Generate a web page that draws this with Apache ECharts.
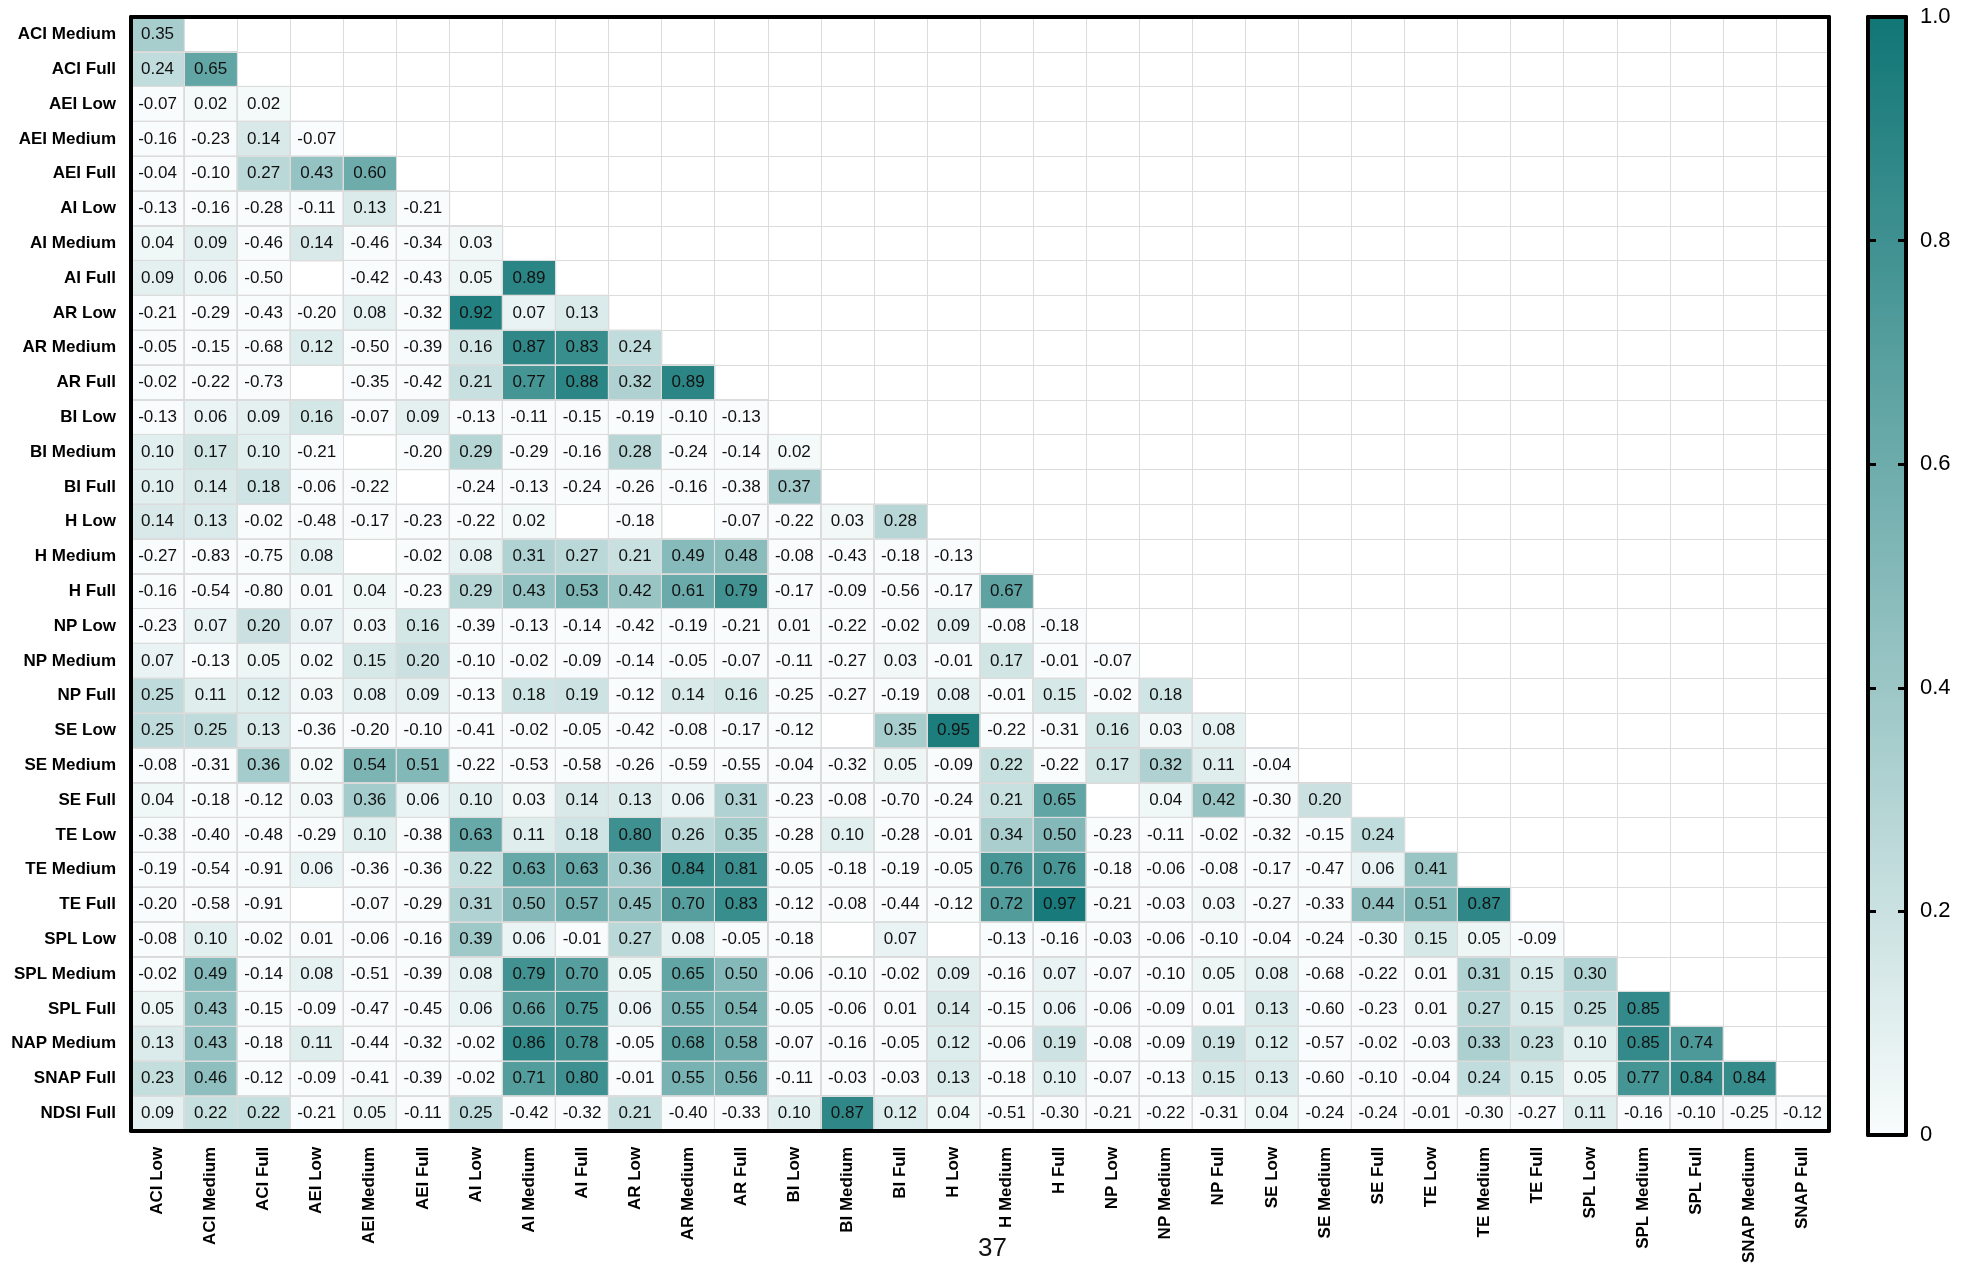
<!DOCTYPE html>
<html><head><meta charset="utf-8">
<script src="https://cdn.jsdelivr.net/npm/echarts@6/dist/echarts.min.js"></script>
<style>html,body{margin:0;padding:0;background:#fff}#c{width:1982px;height:1266px}</style>
</head><body><div id="c"></div>
<script>
const columns = ['ACI Low','ACI Medium','ACI Full','AEI Low','AEI Medium','AEI Full','AI Low','AI Medium','AI Full','AR Low','AR Medium','AR Full','BI Low','BI Medium','BI Full','H Low','H Medium','H Full','NP Low','NP Medium','NP Full','SE Low','SE Medium','SE Full','TE Low','TE Medium','TE Full','SPL Low','SPL Medium','SPL Full','SNAP Medium','SNAP Full'];
const rows = ['ACI Medium','ACI Full','AEI Low','AEI Medium','AEI Full','AI Low','AI Medium','AI Full','AR Low','AR Medium','AR Full','BI Low','BI Medium','BI Full','H Low','H Medium','H Full','NP Low','NP Medium','NP Full','SE Low','SE Medium','SE Full','TE Low','TE Medium','TE Full','SPL Low','SPL Medium','SPL Full','NAP Medium','SNAP Full','NDSI Full'];

const vACIMedium = [0.35];
const vACIFull = [0.24, 0.65];
const vAEILow = [-0.07, 0.02, 0.02];
const vAEIMedium = [-0.16, -0.23, 0.14, -0.07];
const vAEIFull = [-0.04, -0.10, 0.27, 0.43, 0.60];
const vAILow = [-0.13, -0.16, -0.28, -0.11, 0.13, -0.21];
const vAIMedium = [0.04, 0.09, -0.46, 0.14, -0.46, -0.34, 0.03];
const vAIFull = [0.09, 0.06, -0.50, null, -0.42, -0.43, 0.05, 0.89];
const vARLow = [-0.21, -0.29, -0.43, -0.20, 0.08, -0.32, 0.92, 0.07, 0.13];
const vARMedium = [-0.05, -0.15, -0.68, 0.12, -0.50, -0.39, 0.16, 0.87, 0.83, 0.24];
const vARFull = [-0.02, -0.22, -0.73, null, -0.35, -0.42, 0.21, 0.77, 0.88, 0.32, 0.89];
const vBILow = [-0.13, 0.06, 0.09, 0.16, -0.07, 0.09, -0.13, -0.11, -0.15, -0.19, -0.10, -0.13];
const vBIMedium = [0.10, 0.17, 0.10, -0.21, null, -0.20, 0.29, -0.29, -0.16, 0.28, -0.24, -0.14, 0.02];
const vBIFull = [0.10, 0.14, 0.18, -0.06, -0.22, null, -0.24, -0.13, -0.24, -0.26, -0.16, -0.38, 0.37, null];
const vHLow = [0.14, 0.13, -0.02, -0.48, -0.17, -0.23, -0.22, 0.02, null, -0.18, null, -0.07, -0.22, 0.03, 0.28];
const vHMedium = [-0.27, -0.83, -0.75, 0.08, null, -0.02, 0.08, 0.31, 0.27, 0.21, 0.49, 0.48, -0.08, -0.43, -0.18, -0.13];
const vHFull = [-0.16, -0.54, -0.80, 0.01, 0.04, -0.23, 0.29, 0.43, 0.53, 0.42, 0.61, 0.79, -0.17, -0.09, -0.56, -0.17, 0.67];
const vNPLow = [-0.23, 0.07, 0.20, 0.07, 0.03, 0.16, -0.39, -0.13, -0.14, -0.42, -0.19, -0.21, 0.01, -0.22, -0.02, 0.09, -0.08, -0.18];
const vNPMedium = [0.07, -0.13, 0.05, 0.02, 0.15, 0.20, -0.10, -0.02, -0.09, -0.14, -0.05, -0.07, -0.11, -0.27, 0.03, -0.01, 0.17, -0.01, -0.07];
const vNPFull = [0.25, 0.11, 0.12, 0.03, 0.08, 0.09, -0.13, 0.18, 0.19, -0.12, 0.14, 0.16, -0.25, -0.27, -0.19, 0.08, -0.01, 0.15, -0.02, 0.18];
const vSELow = [0.25, 0.25, 0.13, -0.36, -0.20, -0.10, -0.41, -0.02, -0.05, -0.42, -0.08, -0.17, -0.12, null, 0.35, 0.95, -0.22, -0.31, 0.16, 0.03, 0.08];
const vSEMedium = [-0.08, -0.31, 0.36, 0.02, 0.54, 0.51, -0.22, -0.53, -0.58, -0.26, -0.59, -0.55, -0.04, -0.32, 0.05, -0.09, 0.22, -0.22, 0.17, 0.32, 0.11, -0.04];
const vSEFull = [0.04, -0.18, -0.12, 0.03, 0.36, 0.06, 0.10, 0.03, 0.14, 0.13, 0.06, 0.31, -0.23, -0.08, -0.70, -0.24, 0.21, 0.65, null, 0.04, 0.42, -0.30, 0.20];
const vTELow = [-0.38, -0.40, -0.48, -0.29, 0.10, -0.38, 0.63, 0.11, 0.18, 0.80, 0.26, 0.35, -0.28, 0.10, -0.28, -0.01, 0.34, 0.50, -0.23, -0.11, -0.02, -0.32, -0.15, 0.24];
const vTEMedium = [-0.19, -0.54, -0.91, 0.06, -0.36, -0.36, 0.22, 0.63, 0.63, 0.36, 0.84, 0.81, -0.05, -0.18, -0.19, -0.05, 0.76, 0.76, -0.18, -0.06, -0.08, -0.17, -0.47, 0.06, 0.41];
const vTEFull = [-0.20, -0.58, -0.91, null, -0.07, -0.29, 0.31, 0.50, 0.57, 0.45, 0.70, 0.83, -0.12, -0.08, -0.44, -0.12, 0.72, 0.97, -0.21, -0.03, 0.03, -0.27, -0.33, 0.44, 0.51, 0.87];
const vSPLLow = [-0.08, 0.10, -0.02, 0.01, -0.06, -0.16, 0.39, 0.06, -0.01, 0.27, 0.08, -0.05, -0.18, null, 0.07, null, -0.13, -0.16, -0.03, -0.06, -0.10, -0.04, -0.24, -0.30, 0.15, 0.05, -0.09];
const vSPLMedium = [-0.02, 0.49, -0.14, 0.08, -0.51, -0.39, 0.08, 0.79, 0.70, 0.05, 0.65, 0.50, -0.06, -0.10, -0.02, 0.09, -0.16, 0.07, -0.07, -0.10, 0.05, 0.08, -0.68, -0.22, 0.01, 0.31, 0.15, 0.30];
const vSPLFull = [0.05, 0.43, -0.15, -0.09, -0.47, -0.45, 0.06, 0.66, 0.75, 0.06, 0.55, 0.54, -0.05, -0.06, 0.01, 0.14, -0.15, 0.06, -0.06, -0.09, 0.01, 0.13, -0.60, -0.23, 0.01, 0.27, 0.15, 0.25, 0.85];
const vNAPMedium = [0.13, 0.43, -0.18, 0.11, -0.44, -0.32, -0.02, 0.86, 0.78, -0.05, 0.68, 0.58, -0.07, -0.16, -0.05, 0.12, -0.06, 0.19, -0.08, -0.09, 0.19, 0.12, -0.57, -0.02, -0.03, 0.33, 0.23, 0.10, 0.85, 0.74];
const vSNAPFull = [0.23, 0.46, -0.12, -0.09, -0.41, -0.39, -0.02, 0.71, 0.80, -0.01, 0.55, 0.56, -0.11, -0.03, -0.03, 0.13, -0.18, 0.10, -0.07, -0.13, 0.15, 0.13, -0.60, -0.10, -0.04, 0.24, 0.15, 0.05, 0.77, 0.84, 0.84];
const vNDSIFull = [0.09, 0.22, 0.22, -0.21, 0.05, -0.11, 0.25, -0.42, -0.32, 0.21, -0.40, -0.33, 0.10, 0.87, 0.12, 0.04, -0.51, -0.30, -0.21, -0.22, -0.31, 0.04, -0.24, -0.24, -0.01, -0.30, -0.27, 0.11, -0.16, -0.10, -0.25, -0.12];

const rowValues = [vACIMedium, vACIFull, vAEILow, vAEIMedium, vAEIFull, vAILow, vAIMedium, vAIFull, vARLow, vARMedium, vARFull, vBILow, vBIMedium, vBIFull, vHLow, vHMedium, vHFull, vNPLow, vNPMedium, vNPFull, vSELow, vSEMedium, vSEFull, vTELow, vTEMedium, vTEFull, vSPLLow, vSPLMedium, vSPLFull, vNAPMedium, vSNAPFull, vNDSIFull];

const pageNote = '37';

const data = [];
rowValues.forEach((vals, r) => {
  vals.forEach((v, c) => {
    if (v !== null) data.push([c, r, Math.max(0, v), v]);
  });
});

const FONT = 'Liberation Sans, Arial, sans-serif';
const G = {left: 131, top: 17, width: 1698, height: 1118};
const CB = {left: 1868, top: 17, width: 38, height: 1118};

const frameAxis = {onZero: false, show: true, lineStyle: {color: '#000', width: 4}};

const chart = echarts.init(document.getElementById('c'));
chart.setOption({
  backgroundColor: '#fff',
  animation: false,
  textStyle: {fontFamily: FONT},
  grid: [
    {left: G.left, top: G.top, width: G.width, height: G.height},
    {left: CB.left, top: CB.top, width: CB.width, height: CB.height}
  ],
  xAxis: [
    {type: 'category', gridIndex: 0, position: 'bottom', data: columns, z: 5,
      axisLine: {lineStyle: {color: '#000', width: 4}},
      axisTick: {alignWithLabel: true, length: 10, lineStyle: {color: '#000', width: 3}},
      axisLabel: {rotate: 90, interval: 0, margin: 16, fontSize: 17, fontWeight: 'bold', color: '#000', fontFamily: FONT},
      splitLine: {show: true, interval: 0, lineStyle: {color: '#dcdcdc', width: 1}}},
    {type: 'category', gridIndex: 0, position: 'top', data: columns, z: 5,
      axisLine: {lineStyle: {color: '#000', width: 4}}, axisTick: {show: false}, axisLabel: {show: false}, splitLine: {show: false}},
    {type: 'value', gridIndex: 1, position: 'bottom', min: 0, max: 1, z: 10,
      axisLine: frameAxis, axisTick: {show: false}, axisLabel: {show: false}, splitLine: {show: false}},
    {type: 'value', gridIndex: 1, position: 'top', min: 0, max: 1, z: 10,
      axisLine: frameAxis, axisTick: {show: false}, axisLabel: {show: false}, splitLine: {show: false}}
  ],
  yAxis: [
    {type: 'category', gridIndex: 0, position: 'left', inverse: true, data: rows, z: 5,
      axisLine: {lineStyle: {color: '#000', width: 4}},
      axisTick: {alignWithLabel: true, length: 10, lineStyle: {color: '#000', width: 4}},
      axisLabel: {interval: 0, margin: 15, fontSize: 17, fontWeight: 'bold', color: '#000', fontFamily: FONT},
      splitLine: {show: true, interval: 0, lineStyle: {color: '#dcdcdc', width: 1}}},
    {type: 'category', gridIndex: 0, position: 'right', inverse: true, data: rows, z: 5,
      axisLine: {lineStyle: {color: '#000', width: 4}}, axisTick: {show: false}, axisLabel: {show: false}, splitLine: {show: false}},
    {type: 'value', gridIndex: 1, position: 'left', min: 0, max: 1, interval: 0.2, z: 10,
      axisLine: frameAxis,
      axisTick: {show: true, inside: true, length: 8, lineStyle: {color: '#000', width: 3}},
      axisLabel: {show: false}, splitLine: {show: false}},
    {type: 'value', gridIndex: 1, position: 'right', min: 0, max: 1, interval: 0.2, z: 10,
      axisLine: frameAxis,
      axisTick: {show: true, inside: true, length: 8, lineStyle: {color: '#000', width: 3}},
      axisLabel: {show: true, margin: 14, fontSize: 22, color: '#000', fontFamily: FONT,
        formatter: v => v === 0 ? '0' : v.toFixed(1)},
      splitLine: {show: false}}
  ],
  visualMap: {
    type: 'continuous', min: 0, max: 1, dimension: 2, seriesIndex: 0,
    calculable: false, show: true, orient: 'vertical',
    left: CB.left, top: CB.top, itemWidth: CB.width, itemHeight: CB.height, padding: 0,
    text: null, showLabel: false,
    inRange: {color: ['#f9fcfc', '#117676']}
  },
  series: [{
    type: 'heatmap', xAxisIndex: 0, yAxisIndex: 0,
    data: data,
    label: {show: true, fontSize: 17, color: '#111', fontFamily: FONT,
      formatter: p => p.value[3].toFixed(2)},
    itemStyle: {borderColor: '#d8d8d8', borderWidth: 1},
    emphasis: {disabled: true}
  }],
  graphic: [{
    type: 'text', left: 978, top: 1236,
    style: {text: pageNote, fontSize: 26, fill: '#111', fontFamily: FONT}
  }]
});
</script>
</body></html>
